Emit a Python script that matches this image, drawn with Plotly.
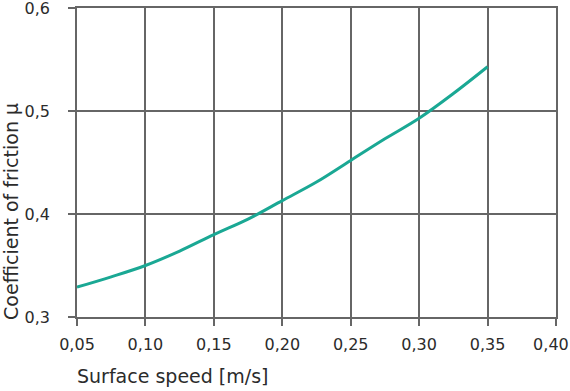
import plotly.graph_objects as go

speed = [0.05, 0.075, 0.10, 0.125, 0.15, 0.175, 0.20, 0.225, 0.25, 0.275, 0.30, 0.325, 0.35]
mu = [0.329, 0.339, 0.350, 0.364, 0.380, 0.395, 0.413, 0.431, 0.452, 0.473, 0.493, 0.517, 0.543]

x_ticks = [0.05, 0.10, 0.15, 0.20, 0.25, 0.30, 0.35, 0.40]
x_labels = ["0,05", "0,10", "0,15", "0,20", "0,25", "0,30", "0,35", "0,40\u00a0\u00a0"]
y_ticks = [0.3, 0.4, 0.5, 0.6]
y_labels = ["0,3", "0,4", "0,5", "0,6"]
x_title = "Surface speed [m/s]"
y_title = "Coefficient of friction μ"

fig = go.Figure()
fig.add_trace(go.Scatter(x=speed, y=mu, mode="lines",
                         line=dict(color="#1aa894", width=3, shape="spline", smoothing=1.0),
                         showlegend=False, hoverinfo="skip"))

font = dict(family="DejaVu Sans, Liberation Sans, sans-serif", size=16, color="#2b2b2b")
grid = "#666666"
common = dict(showgrid=True, gridcolor=grid, gridwidth=1.5,
              ticks="outside", ticklen=7, tickcolor=grid, tickwidth=1.5,
              showline=True, linecolor=grid, linewidth=1.5, mirror=True,
              zeroline=False, automargin=False, ticklabeloverflow="allow")
fig.update_layout(
    width=570, height=391,
    margin=dict(l=77, r=14, t=8, b=74),
    paper_bgcolor="white", plot_bgcolor="white",
    font=font,
    xaxis=dict(range=[0.05, 0.40], tickvals=x_ticks, ticktext=x_labels,
               ticklabelstandoff=5, **common),
    yaxis=dict(range=[0.3, 0.6], tickvals=y_ticks, ticktext=y_labels,
               ticklabelstandoff=15, **common),
    annotations=[
        dict(text=x_title, xref="paper", yref="paper", x=0.2, y=-0.191,
             xanchor="center", yanchor="middle", showarrow=False,
             font=dict(size=19)),
        dict(text=y_title, xref="paper", yref="paper", x=-0.138, y=0.343,
             xanchor="center", yanchor="middle", showarrow=False, textangle=-90,
             font=dict(size=19)),
    ],
)
fig.write_html("out.html", config={"displayModeBar": False},
               post_script="document.body.style.margin='0';")
